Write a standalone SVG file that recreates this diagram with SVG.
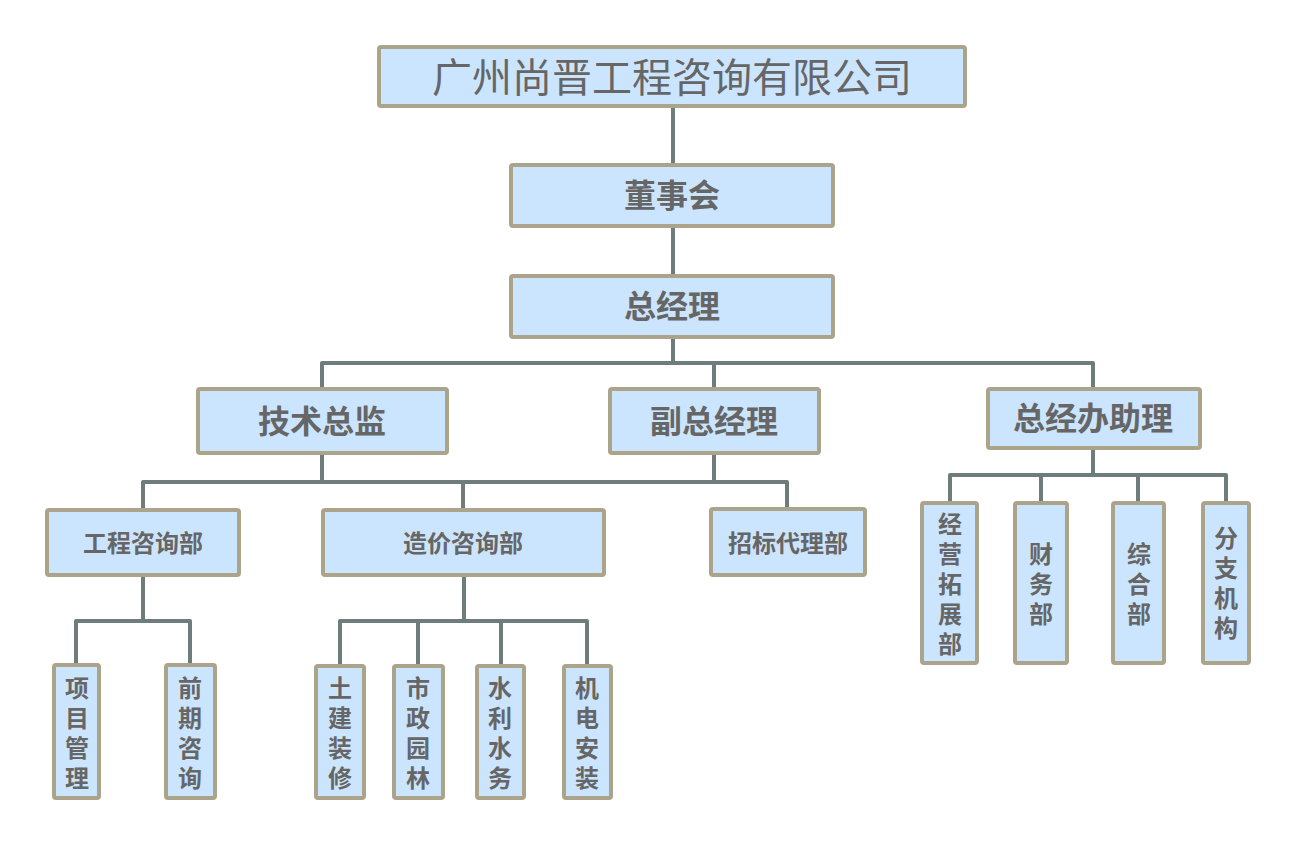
<svg xmlns="http://www.w3.org/2000/svg" width="1310" height="860" viewBox="0 0 1310 860">
<style>
.box{fill:#CCE5FF;stroke:#ABA48B;stroke-width:4}
.ln{fill:none;stroke:#6E7C7B;stroke-width:4;stroke-linejoin:round}
text{font-family:"Noto Sans CJK SC","Noto Sans",sans-serif;fill:#666666;text-anchor:middle}
.t{font-size:40px;font-weight:400}
.b1{font-size:32px;font-weight:700}
.b2{font-size:24px;font-weight:700}
.v{writing-mode:vertical-rl;text-orientation:upright;letter-spacing:6px}
</style>
<rect width="1310" height="860" fill="#FFFFFF"/>
<g id="connectors">
<path class="ln" d="M673 106V165M673 226V276M673 337V363"/>
<path class="ln" d="M322 389V363H1093V389M714 363V389"/>
<path class="ln" d="M322 453V482M714 453V482M143 510V482H787V509M463 482V510"/>
<path class="ln" d="M143 575V621M76 665V621H190V665"/>
<path class="ln" d="M464 575V621M340 666V621H587V666M418 621V666M501 621V666"/>
<path class="ln" d="M1093 448V475M950 503V475H1226V503M1041 475V503M1138 475V503"/>
</g>
<g id="company"><rect class="box" x="379" y="47" width="586" height="59" rx="2"/><text class="t" x="672" y="92">广州尚晋工程咨询有限公司</text></g>
<g id="board"><rect class="box" x="511" y="165" width="322" height="61" rx="2"/><text class="b1" x="672" y="207">董事会</text></g>
<g id="gm"><rect class="box" x="511" y="276" width="322" height="61" rx="2"/><text class="b1" x="672" y="318">总经理</text></g>
<g id="tech"><rect class="box" x="198" y="389" width="249" height="64" rx="2"/><text class="b1" x="322" y="433">技术总监</text></g>
<g id="vgm"><rect class="box" x="610" y="389" width="209" height="64" rx="2"/><text class="b1" x="714" y="433">副总经理</text></g>
<g id="assist"><rect class="box" x="988" y="389" width="212" height="59" rx="2"/><text class="b1" x="1093" y="430">总经办助理</text></g>
<g id="eng"><rect class="box" x="47" y="510" width="192" height="65" rx="2"/><text class="b2" x="143" y="552">工程咨询部</text></g>
<g id="cost"><rect class="box" x="323" y="510" width="281" height="65" rx="2"/><text class="b2" x="463" y="552">造价咨询部</text></g>
<g id="bid"><rect class="box" x="711" y="509" width="154" height="66" rx="2"/><text class="b2" x="788" y="552">招标代理部</text></g>
<g id="pm"><rect class="box" x="54" y="665" width="45" height="133" rx="2"/><text class="b2 v" x="77" y="736">项目管理</text></g>
<g id="pre"><rect class="box" x="166" y="665" width="49" height="133" rx="2"/><text class="b2 v" x="190" y="736">前期咨询</text></g>
<g id="civil"><rect class="box" x="316" y="666" width="48" height="132" rx="2"/><text class="b2 v" x="340" y="736">土建装修</text></g>
<g id="muni"><rect class="box" x="394" y="666" width="49" height="132" rx="2"/><text class="b2 v" x="418" y="736">市政园林</text></g>
<g id="water"><rect class="box" x="477" y="666" width="47" height="132" rx="2"/><text class="b2 v" x="500" y="736">水利水务</text></g>
<g id="mep"><rect class="box" x="564" y="666" width="47" height="132" rx="2"/><text class="b2 v" x="587" y="736">机电安装</text></g>
<g id="biz"><rect class="box" x="922" y="503" width="55" height="160" rx="2"/><text class="b2 v" x="950" y="587">经营拓展部</text></g>
<g id="fin"><rect class="box" x="1015" y="503" width="52" height="160" rx="2"/><text class="b2 v" x="1041" y="587">财务部</text></g>
<g id="gen"><rect class="box" x="1113" y="503" width="51" height="160" rx="2"/><text class="b2 v" x="1139" y="587">综合部</text></g>
<g id="branch"><rect class="box" x="1203" y="503" width="46" height="160" rx="2"/><text class="b2 v" x="1226" y="586">分支机构</text></g>
</svg>
